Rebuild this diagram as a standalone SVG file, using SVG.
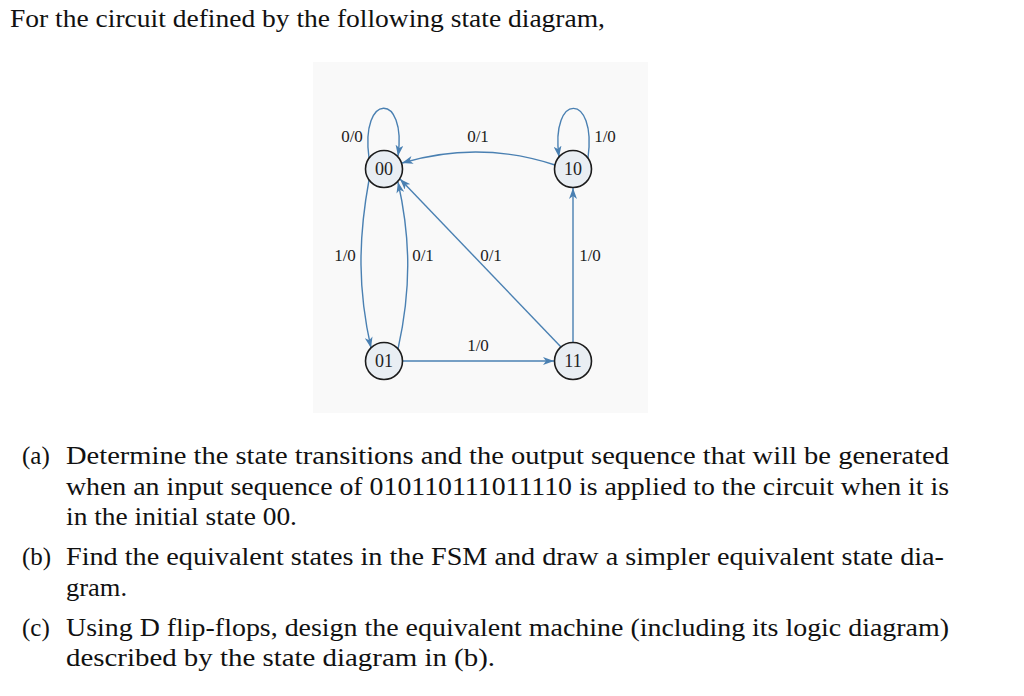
<svg xmlns="http://www.w3.org/2000/svg" width="1024" height="696" viewBox="0 0 1024 696">
<style>
.body{font-family:"Liberation Serif","DejaVu Serif",serif;font-size:25px;fill:#111}
.lbl{font-family:"Liberation Serif","DejaVu Serif",serif;font-size:17px;fill:#222;text-anchor:middle}
.st circle{fill:#e9eef3;stroke:#1c1c1c;stroke-width:1.6}
.st text{font-family:"Liberation Serif","DejaVu Serif",serif;font-size:18px;fill:#222;text-anchor:middle}
.edge{fill:none;stroke:#4a80b2;stroke-width:1.4;marker-end:url(#arr)}
</style>
<defs>
<marker id="arr" viewBox="0 0 11 8" refX="11" refY="4" markerWidth="11" markerHeight="8" markerUnits="userSpaceOnUse" orient="auto">
<path d="M0,0 L11,4 L0,8 L3,4 Z" fill="#4a80b2"/>
</marker>
</defs>
<rect width="1024" height="696" fill="#ffffff"/>
<rect x="313" y="62" width="335" height="351" fill="#f9f9f9"/>

<g id="connectors">
<path class="edge" d="M369,158 C360,92 407,92 398,156"/>
<path class="edge" d="M588,158 C597,92 550,92 559,157"/>
<path class="edge" d="M555,165 Q479,140 402,163"/>
<path class="edge" d="M573,342.5 L573,188"/>
<path class="edge" d="M369,180 C358,240 358,290 371,348"/>
<path class="edge" d="M398,349 C411,290 411,240 398,182"/>
<path class="edge" d="M561,347 L400,179"/>
<path class="edge" d="M403,361 L554,361"/>
</g>

<g id="labels">
<text class="lbl" x="352" y="142">0/0</text>
<text class="lbl" x="478" y="142">0/1</text>
<text class="lbl" x="605" y="142">1/0</text>
<text class="lbl" x="345" y="261">1/0</text>
<text class="lbl" x="423" y="261">0/1</text>
<text class="lbl" x="491" y="261">0/1</text>
<text class="lbl" x="590" y="261">1/0</text>
<text class="lbl" x="478" y="351">1/0</text>
</g>

<g id="state00" class="st"><circle cx="384" cy="169" r="18.5"/><text x="384" y="175">00</text></g>
<g id="state10" class="st"><circle cx="573" cy="169" r="18.5"/><text x="573" y="175">10</text></g>
<g id="state01" class="st"><circle cx="384" cy="361" r="18.5"/><text x="384" y="367">01</text></g>
<g id="state11" class="st"><circle cx="573" cy="361" r="18.5"/><text x="573" y="367">11</text></g>

<g id="text">
<text class="body" x="10" y="27" textLength="595" lengthAdjust="spacingAndGlyphs">For the circuit defined by the following state diagram,</text>
<text class="body" x="22" y="464">(a)</text>
<text class="body" x="66" y="464" textLength="883" lengthAdjust="spacingAndGlyphs">Determine the state transitions and the output sequence that will be generated</text>
<text class="body" x="66" y="495" textLength="883" lengthAdjust="spacingAndGlyphs">when an input sequence of 010110111011110 is applied to the circuit when it is</text>
<text class="body" x="66" y="525" textLength="231" lengthAdjust="spacingAndGlyphs">in the initial state 00.</text>
<text class="body" x="22" y="565">(b)</text>
<text class="body" x="66" y="565" textLength="878" lengthAdjust="spacingAndGlyphs">Find the equivalent states in the FSM and draw a simpler equivalent state dia-</text>
<text class="body" x="66" y="596" textLength="61" lengthAdjust="spacingAndGlyphs">gram.</text>
<text class="body" x="22" y="636">(c)</text>
<text class="body" x="66" y="636" textLength="883" lengthAdjust="spacingAndGlyphs">Using D flip-flops, design the equivalent machine (including its logic diagram)</text>
<text class="body" x="66" y="666" textLength="429" lengthAdjust="spacingAndGlyphs">described by the state diagram in (b).</text>
</g>
</svg>
